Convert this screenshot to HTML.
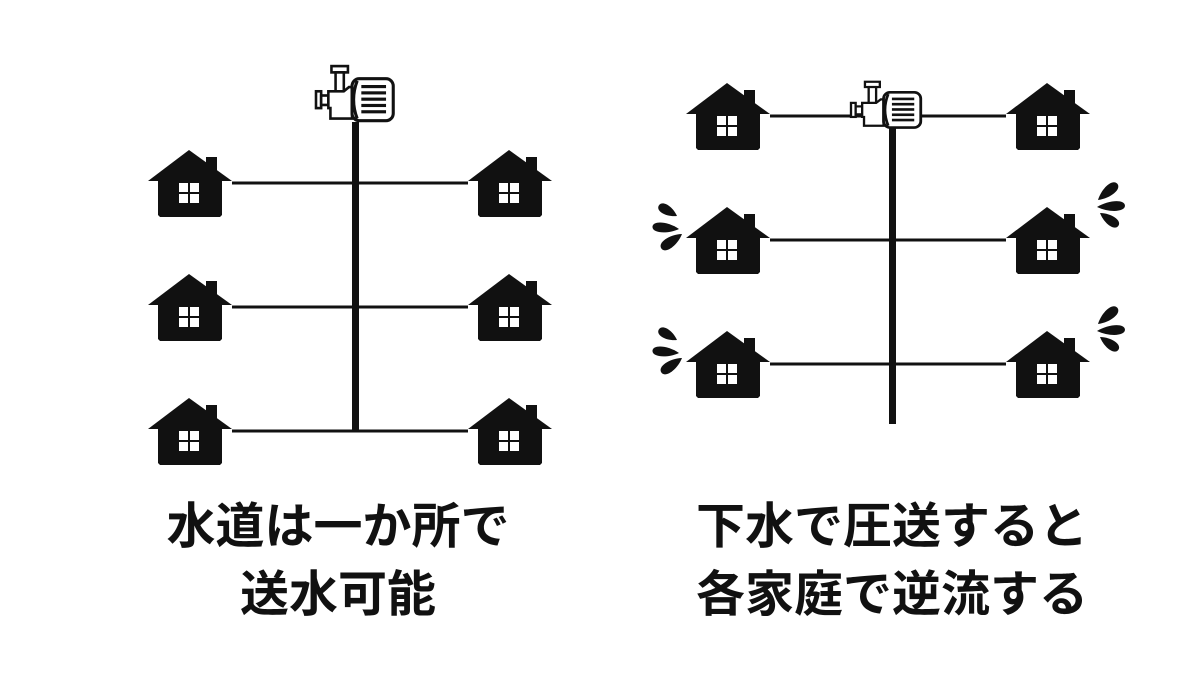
<!DOCTYPE html>
<html><head><meta charset="utf-8"><style>
html,body{margin:0;padding:0;background:#fff;}
svg{display:block}
text{font-family:"Liberation Sans","Noto Sans CJK JP",sans-serif;font-weight:bold;fill:#111;font-size:49px;text-anchor:middle}
</style></head><body>
<svg width="1200" height="675" viewBox="0 0 1200 675" xmlns="http://www.w3.org/2000/svg">
<defs>
<g id="h">
<polygon points="10,30 41,5 74,30 74,66 72,68 12,68 10,66" fill="#111"/>
<polygon points="0,32 41,1 84,32" fill="#111"/>
<rect x="58" y="8" width="11" height="20" fill="#111"/>
<rect x="31" y="34" width="9" height="9" fill="#fff"/>
<rect x="42" y="34" width="9" height="9" fill="#fff"/>
<rect x="31" y="45" width="9" height="9" fill="#fff"/>
<rect x="42" y="45" width="9" height="9" fill="#fff"/>
</g>
<g id="pump">
<rect x="15" y="2" width="16" height="6" fill="#fff" stroke="#111" stroke-width="2.5"/>
<rect x="19" y="8" width="8" height="22" fill="#fff" stroke="#111" stroke-width="2.5"/>
<rect x="0" y="26" width="5" height="16" fill="#fff" stroke="#111" stroke-width="2.5"/>
<rect x="5" y="30" width="7" height="9" fill="#fff" stroke="#111" stroke-width="2.5"/>
<path d="M12,26 L27,26 L32,22 L35,22 L35,52 L14,52 L14,42 L12,42 Z" fill="#fff" stroke="#111" stroke-width="2.5"/>
<rect x="35" y="14" width="40" height="40" rx="7" fill="#fff" stroke="#111" stroke-width="3"/>
<path d="M40,16 Q33,34 40,52" fill="none" stroke="#111" stroke-width="3"/>
<g fill="#111"><rect x="44" y="20" width="24" height="3"/><rect x="44" y="26" width="24" height="3"/><rect x="44" y="32" width="24" height="3"/><rect x="44" y="38" width="24" height="3"/><rect x="44" y="44" width="24" height="3"/></g>
</g>
<path id="drop" d="M0,0 C6,-5 14,-5 14,0 C14,5 6,5 0,0 Z"/>
<g id="splL" fill="#111">
<use href="#drop" transform="translate(677,216) rotate(210) scale(1.5,1.3)"/>
<use href="#drop" transform="translate(679,229) rotate(185) scale(1.9,1.3)"/>
<use href="#drop" transform="translate(682,234) rotate(145) scale(1.8,1.4)"/>
</g>
<g id="splR" fill="#111">
<use href="#drop" transform="translate(1098,200) rotate(-40) scale(1.8,1.4)"/>
<use href="#drop" transform="translate(1097,207) rotate(-3) scale(2.0,1.3)"/>
<use href="#drop" transform="translate(1100,213) rotate(35) scale(1.6,1.3)"/>
</g>
</defs>
<g stroke="#111" stroke-width="3">
<line x1="232" y1="183" x2="468" y2="183"/>
<line x1="232" y1="307" x2="468" y2="307"/>
<line x1="232" y1="431" x2="468" y2="431"/>
</g>
<rect x="352" y="122" width="7" height="310" fill="#111"/>
<use href="#pump" transform="translate(316,64) scale(1.03,1.05)"/>
<use href="#h" x="148" y="149"/><use href="#h" x="148" y="273"/><use href="#h" x="148" y="397"/>
<use href="#h" x="468" y="149"/><use href="#h" x="468" y="273"/><use href="#h" x="468" y="397"/>
<g stroke="#111" stroke-width="3">
<line x1="770" y1="116" x2="1006" y2="116"/>
<line x1="770" y1="240" x2="1006" y2="240"/>
<line x1="770" y1="364" x2="1006" y2="364"/>
</g>
<rect x="889" y="115" width="7" height="309" fill="#111"/>
<use href="#pump" transform="translate(851,80) scale(0.93,0.88)"/>
<use href="#h" x="686" y="82"/><use href="#h" x="686" y="206"/><use href="#h" x="686" y="330"/>
<use href="#h" x="1006" y="82"/><use href="#h" x="1006" y="206"/><use href="#h" x="1006" y="330"/>
<use href="#splL"/><use href="#splL" y="124"/>
<use href="#splR"/><use href="#splR" y="124"/>
<text x="338" y="543">水道は一か所で</text>
<text x="338" y="611">送水可能</text>
<text x="892" y="543">下水で圧送すると</text>
<text x="892" y="611">各家庭で逆流する</text>
</svg>
</body></html>
